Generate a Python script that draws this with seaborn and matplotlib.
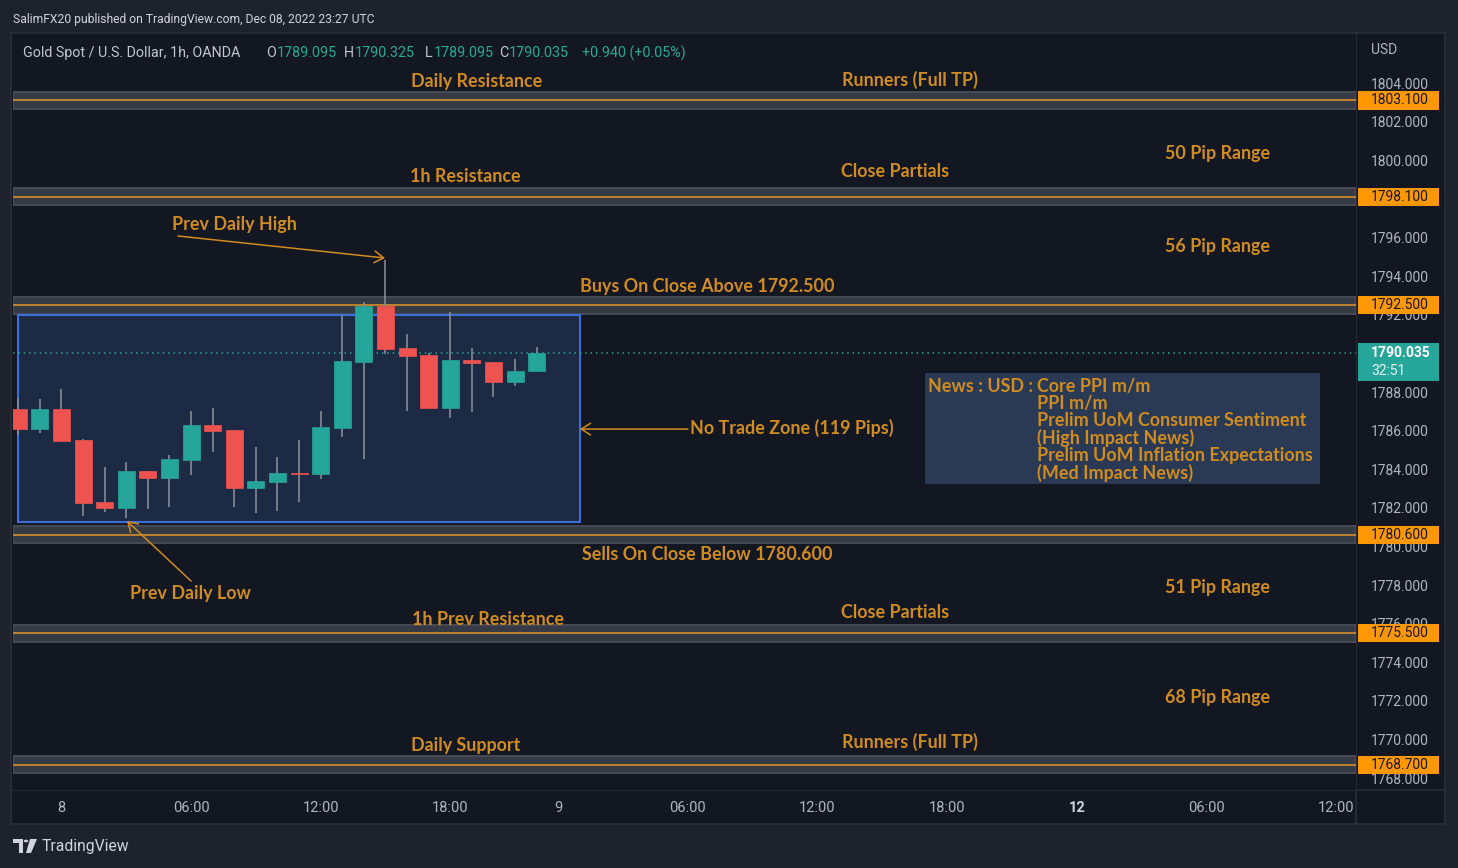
import numpy as np
import pandas as pd
import matplotlib
matplotlib.use("Agg")
import matplotlib.pyplot as plt
import seaborn as sns
from matplotlib.patches import Rectangle, Polygon, Circle

# ---------------- data ----------------
bar_index = list(range(-2, 23))
opens  = [1787.12, 1786.08, 1787.12, 1785.51, 1782.30, 1781.99, 1783.91, 1783.54, 1784.48, 1786.29,
          1786.03, 1783.03, 1783.34, 1783.83, 1783.75, 1786.13, 1789.55, 1792.45, 1790.28, 1789.91,
          1787.17, 1789.66, 1789.55, 1788.52, 1789.095]
highs  = [1787.69, 1787.64, 1788.15, 1785.55, 1784.11, 1784.37, 1783.93, 1784.74, 1787.01, 1787.17,
          1786.05, 1785.15, 1784.63, 1785.51, 1787.01, 1791.99, 1792.66, 1794.83, 1791.00, 1790.02,
          1792.14, 1790.28, 1789.57, 1789.71, 1790.325]
lows   = [1785.77, 1785.87, 1785.41, 1781.58, 1781.78, 1781.47, 1781.94, 1782.04, 1783.70, 1784.89,
          1782.04, 1781.73, 1781.84, 1782.30, 1783.49, 1785.67, 1784.53, 1789.97, 1787.01, 1787.17,
          1786.65, 1786.96, 1787.74, 1788.31, 1789.095]
closes = [1786.08, 1787.12, 1785.46, 1782.25, 1781.99, 1783.91, 1783.54, 1784.53, 1786.29, 1785.98,
          1783.03, 1783.39, 1783.80, 1783.75, 1786.19, 1789.60, 1792.45, 1790.23, 1789.86, 1787.17,
          1789.66, 1789.50, 1788.52, 1789.09, 1790.035]

levels = [1803.1, 1798.1, 1792.5, 1780.6, 1775.5, 1768.7]
level_tags = ["1803.100", "1798.100", "1792.500", "1780.600", "1775.500", "1768.700"]
last_price = 1790.035
countdown = "32:51"

y_ticks = list(range(1768, 1806, 2))
x_tick_pos = [0, 6, 12, 18, 23, 29, 35, 41, 47, 53, 59]
x_tick_labels = ["8", "06:00", "12:00", "18:00", "9", "06:00", "12:00", "18:00", "12", "06:00", "12:00"]

zone_bars = (-2.0, 24.0)
zone_prices = (1781.27, 1791.99)

# annotations: (text, bar, price, ha)
labels = [
    ("Daily Resistance", 19.2, 1804.10, "center"),
    ("Runners (Full TP)", 39.3, 1804.16, "center"),
    ("50 Pip Range", 53.5, 1800.37, "center"),
    ("1h Resistance", 18.7, 1799.18, "center"),
    ("Close Partials", 38.6, 1799.44, "center"),
    ("Prev Daily High", 8.0, 1796.65, "center"),
    ("56 Pip Range", 53.5, 1795.56, "center"),
    ("Buys On Close Above 1792.500", 29.9, 1793.44, "center"),
    ("No Trade Zone (119 Pips)", 29.1, 1786.13, "left"),
    ("Sells On Close Below 1780.600", 29.9, 1779.56, "center"),
    ("51 Pip Range", 53.5, 1777.90, "center"),
    ("Prev Daily Low", 5.95, 1777.59, "center"),
    ("1h Prev Resistance", 19.75, 1776.24, "center"),
    ("Close Partials", 38.6, 1776.60, "center"),
    ("68 Pip Range", 53.5, 1772.20, "center"),
    ("Daily Support", 18.7, 1769.72, "center"),
    ("Runners (Full TP)", 39.3, 1769.87, "center"),
]
news_head = "News : USD :"
news_lines = ["Core PPI m/m", "PPI m/m", "Prelim UoM Consumer Sentiment", "(High Impact News)",
              "Prelim UoM Inflation Expectations", "(Med Impact News)"]

df = pd.DataFrame({"bar": bar_index, "open": opens, "high": highs, "low": lows, "close": closes})
df["up"] = df["close"] >= df["open"]

# ---------------- style ----------------
sns.set_theme(style="dark", rc={"axes.facecolor": "#131722", "figure.facecolor": "#1e222d"})
plt.rcParams["font.family"] = ["Roboto", "DejaVu Sans"]

BG = "#131722"
OUT = "#1e222d"
BORDER = "#2a2e39"
ORANGE = "#d08c1e"
TAG = "#ff9800"
GREEN = "#26a69a"
RED = "#ef5350"
WICK = "#868993"
AXTXT = "#b2b5be"

W, H = 1458, 868
def fx(x): return x / W
def fy(y): return 1 - y / H

fig = plt.figure(figsize=(14.58, 8.68), dpi=100, facecolor=OUT)
# chart frame
frame = Rectangle((fx(11), fy(824)), fx(1445) - fx(11), fy(33) - fy(824),
                  transform=fig.transFigure, facecolor=BG, edgecolor=BORDER, lw=1.2, zorder=-5)
fig.add_artist(frame)
fig.add_artist(plt.Line2D([fx(1356), fx(1356)], [fy(33), fy(824)], color=BORDER, lw=1.2, zorder=-4))
fig.add_artist(plt.Line2D([fx(11), fx(1445)], [fy(790), fy(790)], color=BORDER, lw=1.2, zorder=-4))

ax = fig.add_axes([fx(13), fy(790), fx(1356) - fx(13), fy(34) - fy(790)], zorder=2)
ax.set_facecolor(BG)
for s in ax.spines.values():
    s.set_visible(False)
ax.grid(False)
ax.set_xlim(-2.245, 59.93)
ax.set_ylim(1767.39, 1806.54)

# level bands
for lv in levels:
    ax.axhspan(lv - 0.44, lv + 0.44, facecolor="#363a45", edgecolor="#474b56", lw=1.4, zorder=1)
    ax.axhline(lv, color="#e3962a", lw=1.1, zorder=1.5)

# no-trade zone
ax.add_patch(Rectangle((zone_bars[0], zone_prices[0]), zone_bars[1] - zone_bars[0],
                       zone_prices[1] - zone_prices[0], facecolor="#1d2a44", edgecolor="#3a6fd8",
                       lw=1.5, zorder=2))

# last price dotted line
ax.axhline(last_price, color=GREEN, lw=1.1, ls=(0, (1, 2.5)), zorder=2.5)

# candles
colors = np.where(df["up"], GREEN, RED)
ax.vlines(df["bar"], df["low"], df["high"], color=WICK, lw=1.2, zorder=3)
body_bottom = np.minimum(df["open"], df["close"])
body_h = np.maximum(np.abs(df["close"] - df["open"]), 0.08)
ax.bar(df["bar"], body_h, bottom=body_bottom, width=0.79, color=colors, edgecolor=colors,
       lw=0.5, zorder=4)

# annotation text
afont = dict(family=["Lato", "DejaVu Sans"], weight="bold", size=12.9, color=ORANGE)
for txt, bx, py, ha in labels:
    ax.text(bx, py, txt, ha=ha, va="center", zorder=6, **afont)

arrow = dict(arrowstyle="->,head_length=0.55,head_width=0.35", color=ORANGE, lw=1.1,
             shrinkA=0, shrinkB=0)
ax.annotate("", xy=(14.98, 1794.94), xytext=(5.39, 1796.08), arrowprops=arrow, zorder=6)
ax.annotate("", xy=(3.03, 1781.32), xytext=(6.0, 1778.21), arrowprops=arrow, zorder=6)
ax.annotate("", xy=(24.0, 1786.08), xytext=(29.0, 1786.08), arrowprops=arrow, zorder=6)

# news box
ax.add_patch(Rectangle((39.98, 1783.23), 58.27 - 39.98, 1788.98 - 1783.23,
                       facecolor="#2a3a55", edgecolor="none", zorder=5))
nfont = dict(family=["Lato", "DejaVu Sans"], weight="bold", size=12.9, color=ORANGE)
ax.text(40.12, 1788.74, news_head, ha="left", va="top", linespacing=1.0, zorder=6, **nfont)
ax.text(45.15, 1788.74, "\n".join(news_lines), ha="left", va="top", linespacing=1.0,
        zorder=6, **nfont)

# axes ticks
ax.yaxis.tick_right()
ax.set_yticks(y_ticks)
ax.set_yticklabels([f"{v:.3f}" for v in y_ticks])
ax.tick_params(axis="y", length=0, pad=10.5, labelcolor=AXTXT, labelsize=10)
ax.set_xticks(x_tick_pos)
ax.set_xticklabels(x_tick_labels)
ax.tick_params(axis="x", length=0, pad=8, labelcolor=AXTXT, labelsize=10.5)
for lab in ax.get_xticklabels():
    if lab.get_text() == "12":
        lab.set_fontweight("bold")
        lab.set_color("#d1d4dc")

# price tags
ytr = ax.get_yaxis_transform()
x0 = (1358 - 13) / 1343
x1 = (1439 - 13) / 1343
xt = (1371 - 13) / 1343
for lv, tg in zip(levels, level_tags):
    ax.add_patch(Rectangle((x0, lv - 0.47), x1 - x0, 0.94, transform=ytr, facecolor=TAG,
                           edgecolor="none", clip_on=False, zorder=7))
    ax.text(xt, lv, tg, transform=ytr, ha="left", va="center", color="#131722", size=10,
            clip_on=False, zorder=8)
ax.add_patch(Rectangle((x0, 1788.57), x1 - x0, 1790.54 - 1788.57, transform=ytr, facecolor=GREEN,
                       edgecolor="none", clip_on=False, zorder=7))
ax.text(xt, last_price - 0.03, f"{last_price:.3f}", transform=ytr, ha="left", va="center",
        color="white", size=10, weight="bold", clip_on=False, zorder=8)
ax.text(xt, 1789.09, countdown, transform=ytr, ha="left", va="center", color="#e8f5f3", size=10,
        clip_on=False, zorder=8)

# header texts (fit to the reference widths)
renderer = fig.canvas.get_renderer()
def fit(t, width_px, boost=1.0):
    w = t.get_window_extent(renderer).width
    t.set_fontsize(t.get_fontsize() * width_px / w * boost)

h1 = fig.text(fx(13), fy(19), "SalimFX20 published on TradingView.com, Dec 08, 2022 23:27 UTC",
              ha="left", va="center", color="#d1d4dc", size=10.5)
fit(h1, 329, 1.1)
GRAY = "#c3c6ce"
TEAL = "#22ab94"
pieces = [("Gold Spot / U.S. Dollar, 1h, OANDA", 23, GRAY), ("O", 266, GRAY),
          ("1789.095", 277, TEAL), ("H", 344, GRAY), ("1790.325", 355, TEAL),
          ("L", 425, GRAY), ("1789.095", 434, TEAL), ("C", 499, GRAY),
          ("1790.035", 509, TEAL), ("+0.940 (+0.05%)", 582, TEAL)]
ref = fig.text(0, 0, "1789.095", size=10.5)
fit(ref, 60)
hsize = ref.get_fontsize()
ref.remove()
for t, px, c in pieces:
    fig.text(fx(px), fy(53), t, ha="left", va="center", color=c, size=hsize)
fig.text(fx(1384), fy(50), "USD", ha="center", va="center", color=AXTXT, size=10)

# TradingView logo + name
LOGO = "#d1d4dc"
fig.add_artist(Polygon([(fx(13), fy(839)), (fx(23), fy(839)), (fx(23), fy(853)), (fx(19), fy(853)),
                        (fx(19), fy(843)), (fx(13), fy(843))], closed=True, transform=fig.transFigure,
                       facecolor=LOGO, edgecolor="none"))
fig.add_artist(Circle((fx(26), fy(841)), 2.2 / W, transform=fig.transFigure, facecolor=LOGO,
                      edgecolor="none"))
fig.add_artist(Polygon([(fx(30), fy(839)), (fx(37), fy(839)), (fx(31), fy(853)), (fx(26), fy(853))],
                       closed=True, transform=fig.transFigure, facecolor=LOGO, edgecolor="none"))
tv = fig.text(fx(42), fy(846), "TradingView", ha="left", va="center", color=LOGO, size=11.5)
fit(tv, 88)

fig.savefig("out.png", dpi=100, facecolor=OUT)
